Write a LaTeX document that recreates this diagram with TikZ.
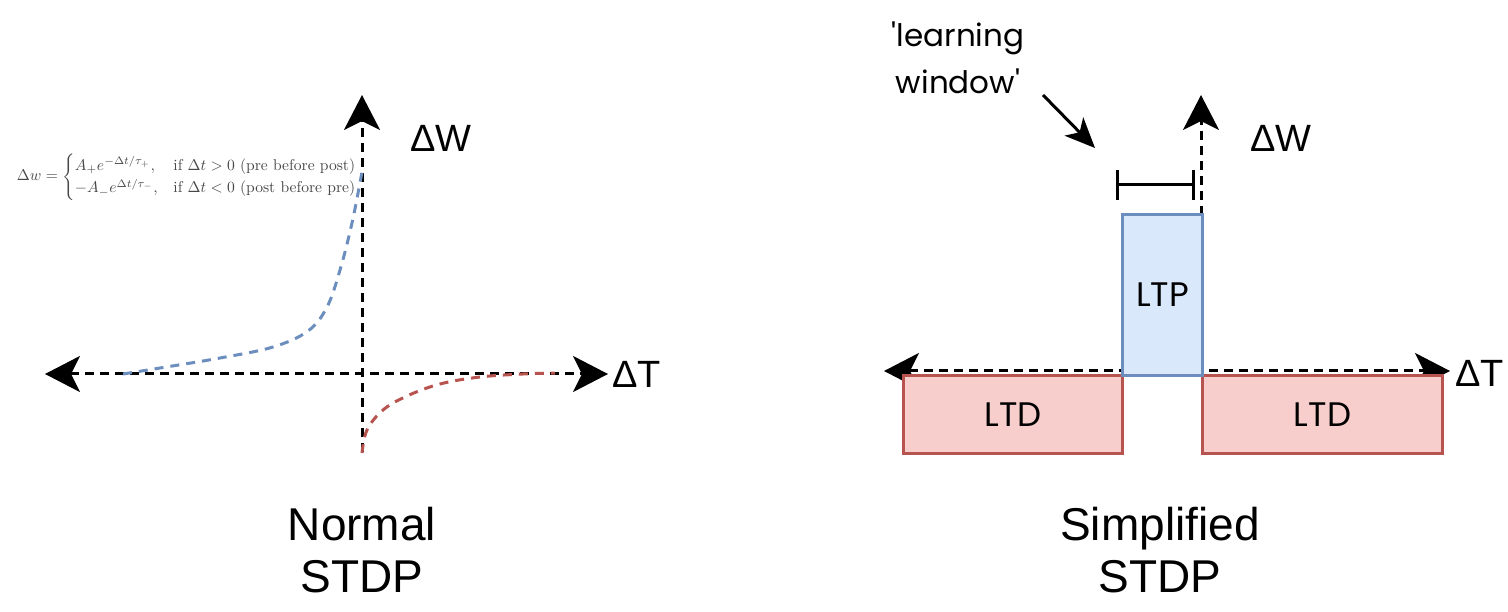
\documentclass[tikz,border=0pt]{standalone}
\usepackage{amsmath}
\usepackage{graphicx}
\usepackage{fontspec}
\newfontfamily\arialf{Liberation Sans}
\newfontfamily\handf{Poppins}
\usetikzlibrary{arrows.meta}
\definecolor{bluestroke}{HTML}{6C8EBF}
\definecolor{bluefill}{HTML}{DAE8FC}
\definecolor{redstroke}{HTML}{B85450}
\definecolor{redfill}{HTML}{F8CECC}
\tikzset{
  axis/.style={line width=3pt, dash pattern=on 9pt off 6pt, {Stealth[length=35pt,width=36pt,inset=9pt]}-{Stealth[length=35pt,width=36pt,inset=9pt]}},
  axisup/.style={line width=3pt, dash pattern=on 9pt off 6pt, -{Stealth[length=35pt,width=36pt,inset=9pt]}},
  curveb/.style={line width=3pt, dash pattern=on 9pt off 7pt, bluestroke},
  curver/.style={line width=3pt, dash pattern=on 9pt off 7pt, redstroke},
  biglabel/.style={font=\arialf\fontsize{38}{44}\selectfont, inner sep=0pt},
  title/.style={font=\arialf\fontsize{46}{53}\selectfont, align=center, inner sep=0pt},
  ltpbox/.style={draw=bluestroke, fill=bluefill, line width=3pt, inner sep=0pt, font=\handf\fontsize{34}{38}\selectfont},
  ltdbox/.style={draw=redstroke, fill=redfill, line width=3pt, inner sep=0pt, font=\handf\fontsize{34}{38}\selectfont},
  hand/.style={font=\handf\fontsize{31}{47}\selectfont, align=center, inner sep=0pt},
}
\begin{document}
\begin{tikzpicture}[x=1pt,y=-1pt]
\useasboundingbox (0,0) rectangle (1508,612);
% ---------------- Left: Normal STDP ----------------
\coordinate (lxl) at (45,374);
\coordinate (lxr) at (608,374);
\coordinate (lyb) at (362,452);
\coordinate (lyt) at (362,95);
\draw[axis] (lxl) -- (lxr);
\draw[axisup] (lyb) -- (lyt);
\draw[curveb] plot[smooth, tension=0.6] coordinates {(123,374) (160,368) (220,358) (273,347) (308,331) (327,307) (340,270) (352,223) (362,172)};
\draw[curver] plot[smooth, tension=0.6] coordinates {(362,453) (367,430) (383,410) (407,396) (440,384) (480,377) (523,374) (555,373)};
\node[biglabel, anchor=south west] (lw) at (410,152) {ΔW};
\node[biglabel, anchor=base west] (lt) at (612,388) {ΔT};
\node[inner sep=0pt, text=black!72] (eq) at (187,177) {\resizebox{340pt}{!}{$\Delta w = \begin{cases} A_+ e^{-\Delta t/\tau_+}, & \text{if } \Delta t > 0 \text{ (pre before post)}\\ -A_- e^{\Delta t/\tau_-}, & \text{if } \Delta t < 0 \text{ (post before pre)}\end{cases}$}};
\node[title, anchor=base] (lt1) at (362,540) {Normal};
\node[title, anchor=base] (lt2) at (362,592) {STDP};
% ---------------- Right: Simplified STDP ----------------
\coordinate (rxl) at (884,371);
\coordinate (rxr) at (1450,371);
\coordinate (ryb) at (1201,215);
\coordinate (ryt) at (1201,95);
\draw[axis] (rxl) -- (rxr);
\draw[axisup] (ryb) -- (ryt);
\node[ltdbox, minimum width=219pt, minimum height=78pt, anchor=north west] (ltd1) at (902,374) {LTD};
\node[ltdbox, minimum width=240pt, minimum height=78pt, anchor=north west] (ltd2) at (1201,374) {LTD};
\node[ltpbox, minimum width=80pt, minimum height=161pt, anchor=north west] (ltp) at (1121,213) {LTP};
\node[biglabel, anchor=south west] (rw) at (1250,152) {ΔW};
\node[biglabel, anchor=base west] (rt) at (1455,386) {ΔT};
% learning window bracket
\coordinate (bl) at (1117,185);
\coordinate (br) at (1193,185);
\draw[line width=3pt] (bl) -- (br);
\draw[line width=3pt] ([yshift=-15pt]bl) -- ([yshift=15pt]bl);
\draw[line width=3pt] ([yshift=-15pt]br) -- ([yshift=15pt]br);
\node[hand] (lwtext) at (958,58) {'learning\\window'};
\coordinate (arrs) at (1043,95);
\coordinate (arre) at (1095,148);
\draw[line width=3pt, -{Stealth[length=30pt,width=26pt,inset=8pt]}] (arrs) -- (arre);
\node[title, anchor=base] (rt1) at (1160,540) {Simplified};
\node[title, anchor=base] (rt2) at (1160,592) {STDP};
\end{tikzpicture}
\end{document}
